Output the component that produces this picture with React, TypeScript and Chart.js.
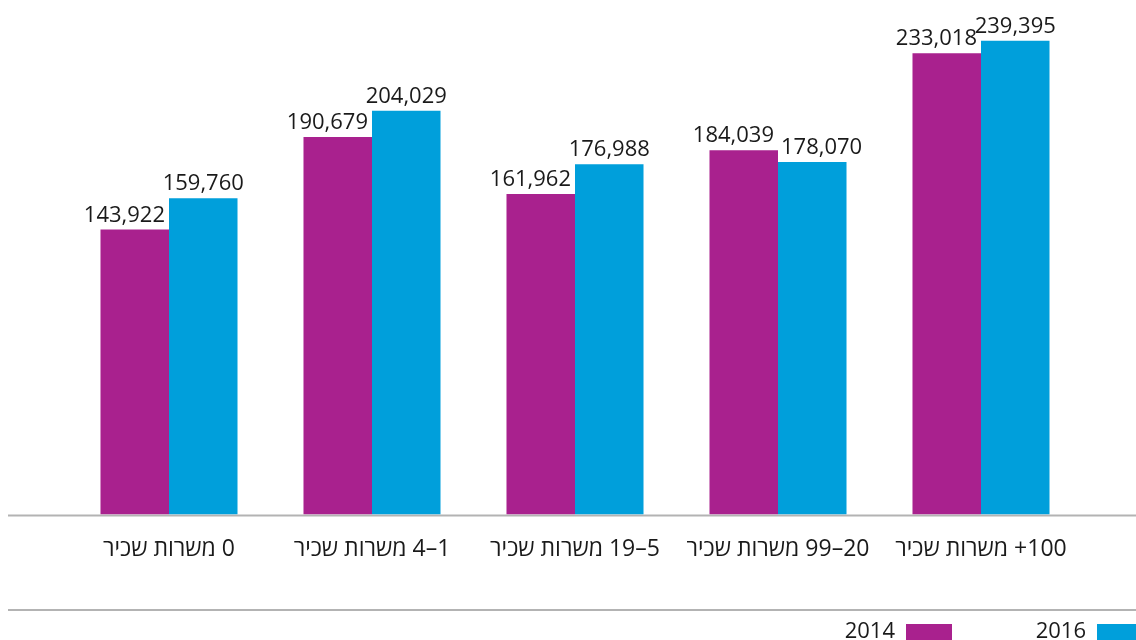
import React, { useEffect, useRef } from "react";
import { Chart, registerables } from "chart.js";

Chart.register(...registerables);

const categories = [
  "0 משרות שכיר",
  "1–4 משרות שכיר",
  "5–19 משרות שכיר",
  "20–99 משרות שכיר",
  "100+ משרות שכיר",
];
const seriesLabels = ["2014", "2016"];
const values2014 = [143922, 190679, 161962, 184039, 233018];
const values2016 = [159760, 204029, 176988, 178070, 239395];
const colors = ["#A9218E", "#009FDB"];

const FONT = "'Open Sans', 'Liberation Sans', 'DejaVu Sans', sans-serif";

const decorPlugin = {
  id: "decor",
  beforeDatasetsDraw(chart: any) {
    const { ctx, chartArea, width } = chart;
    ctx.save();
    ctx.strokeStyle = "#b3b3b3";
    ctx.lineWidth = 2;
    ctx.beginPath();
    ctx.moveTo(8, chartArea.bottom + 1);
    ctx.lineTo(width, chartArea.bottom + 1);
    ctx.moveTo(8, 610);
    ctx.lineTo(width, 610);
    ctx.stroke();
    ctx.restore();
  },
  afterDatasetsDraw(chart: any) {
    const { ctx } = chart;
    ctx.save();
    ctx.fillStyle = "#1a1a1a";
    ctx.font = `22px ${FONT}`;
    ctx.textBaseline = "alphabetic";
    const m0 = chart.getDatasetMeta(0);
    const m1 = chart.getDatasetMeta(1);
    const fmt = (v: number) => v.toLocaleString("en-US");
    for (let i = 0; i < categories.length; i++) {
      const b0 = m0.data[i];
      const b1 = m1.data[i];
      const v0 = values2014[i];
      const v1 = values2016[i];
      const w0 = b0.width;
      const w1 = b1.width;
      ctx.textAlign = "right";
      ctx.fillText(fmt(v0), b0.x + w0 / 2 - 4, b0.y - 8);
      if (v1 >= v0) {
        ctx.textAlign = "center";
        ctx.fillText(fmt(v1), b1.x, b1.y - 8);
      } else {
        ctx.textAlign = "left";
        ctx.fillText(fmt(v1), b1.x - w1 / 2 + 3, b1.y - 8);
      }
    }
    ctx.font = `22px ${FONT}`;
    ctx.textBaseline = "middle";
    ctx.textAlign = "right";
    const legendX = [906, 1097];
    chart.data.datasets.forEach((ds: any, k: number) => {
      ctx.fillStyle = ds.backgroundColor;
      ctx.fillRect(legendX[k], 624, 46, 16);
      ctx.fillStyle = "#1a1a1a";
      ctx.fillText(ds.label, legendX[k] - 11, 632);
    });
    ctx.restore();
  },
};

export default function App() {
  const ref = useRef<HTMLCanvasElement | null>(null);
  useEffect(() => {
    if (!ref.current) return;
    const chart = new Chart(ref.current, {
      type: "bar",
      data: {
        labels: categories,
        datasets: [
          { label: seriesLabels[0], data: values2014, backgroundColor: colors[0] },
          { label: seriesLabels[1], data: values2016, backgroundColor: colors[1] },
        ],
      },
      options: {
        animation: false,
        responsive: false,
        layout: { padding: { left: 67.5, right: 53.5, top: 19.7, bottom: 64 } },
        datasets: { bar: { categoryPercentage: 0.675, barPercentage: 1 } },
        plugins: { legend: { display: false }, tooltip: { enabled: false } },
        scales: {
          x: {
            grid: { display: false },
            border: { display: false },
            ticks: {
              color: "#1a1a1a",
              font: { family: FONT, size: 23 },
              padding: 13,
              maxRotation: 0,
              autoSkip: false,
            },
          },
          y: { display: false, min: 0, max: 250000 },
        },
      },
      plugins: [decorPlugin],
    });
    return () => chart.destroy();
  }, []);
  return (
    <div style={{ position: "fixed", left: 0, top: 0, width: 1136, height: 640, background: "#fff" }}>
      <canvas ref={ref} width={1136} height={640} dir="rtl" style={{ display: "block", direction: "rtl" }} />
    </div>
  );
}
